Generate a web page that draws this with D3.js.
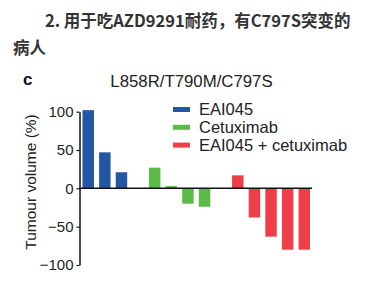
<!DOCTYPE html>
<html>
<head>
<meta charset="utf-8">
<script src="https://cdn.jsdelivr.net/npm/d3@7"></script>
<style>
  body { margin: 0; background: #fff; }
  svg { display: block; }
</style>
</head>
<body>
<div id="content"></div>
<script>
// ******* DATA *******
const headerLines = ["2. 用于吃AZD9291耐药，有C797S突变的", "病人"];
const panelTitle = "L858R/T790M/C797S";
const seriesNames = ["EAI045", "Cetuximab", "EAI045 + cetuximab"];
const seriesColors = ["#2456a6", "#5cba47", "#ee3e48"];
// per-mouse tumour volume change (%), one list per treatment
const eaiValues = [102, 47, 21];
const cetuximabValues = [27, 3, -20, -24];
const comboValues = [17, -38, -63, -80, -80];
const yTicks = [100, 50, 0, -50, -100];

// ******* SETUP *******
const width = 377, height = 284;
const svg = d3.select("#content").append("svg")
    .attr("width", width)
    .attr("height", height);

// header text (chinese)
svg.selectAll("text.header")
    .data(headerLines)
    .join("text")
    .attr("class", "header")
    .attr("x", (d, i) => i === 0 ? 45 : 13)
    .attr("y", (d, i) => 27 + i * 27)
    .attr("font-family", "'Noto Sans CJK SC', sans-serif")
    .attr("font-weight", "bold")
    .attr("font-size", 16.5)
    .attr("fill", "#333")
    .text(d => d);

// build bar list with gap slots between groups
const groups = [eaiValues, cetuximabValues, comboValues];
const bars = [];
const domain = [];
groups.forEach((vals, g) => {
    if (g > 0) domain.push("gap" + g);
    vals.forEach((v, i) => {
        const key = g + "-" + i;
        domain.push(key);
        bars.push({ key: key, value: v, group: g });
    });
});

const x = d3.scaleBand()
    .domain(domain)
    .range([80.5, 312])
    .paddingInner(0.31)
    .paddingOuter(0.12);

const y = d3.scaleLinear()
    .domain([-100, 100])
    .range([265, 111.7]);

const font = "'Liberation Sans', Arial, sans-serif";

// "c" panel label
svg.append("text")
    .attr("x", 23).attr("y", 85)
    .attr("font-family", font)
    .attr("font-weight", "bold")
    .attr("font-size", 17)
    .attr("fill", "#111")
    .text("c");

// panel title
svg.append("text")
    .attr("x", 191.5).attr("y", 86.5)
    .attr("text-anchor", "middle")
    .attr("font-family", font)
    .attr("font-size", 16.8)
    .attr("fill", "#222")
    .text(panelTitle);

// bars
svg.append("g").selectAll("rect")
    .data(bars)
    .join("rect")
    .attr("x", d => x(d.key))
    .attr("width", x.bandwidth())
    .attr("y", d => y(Math.max(0, d.value)))
    .attr("height", d => Math.abs(y(d.value) - y(0)))
    .attr("fill", d => seriesColors[d.group]);

// zero line
svg.append("line")
    .attr("x1", 79).attr("x2", 312)
    .attr("y1", y(0)).attr("y2", y(0))
    .attr("stroke", "#111").attr("stroke-width", 1.5);

// y axis
const yAxis = svg.append("g")
    .attr("transform", "translate(79.5,0)")
    .call(d3.axisLeft(y).tickValues(yTicks).tickSize(3).tickSizeOuter(0)
        .tickFormat(d => d < 0 ? "\u2212" + Math.abs(d) : d));
yAxis.select(".domain").attr("stroke", "#111").attr("stroke-width", 1.5);
yAxis.selectAll(".tick line").attr("stroke", "#111").attr("stroke-width", 1.2);
yAxis.selectAll(".tick text")
    .attr("font-family", font)
    .attr("font-size", 15)
    .attr("fill", "#222")
    .attr("x", -6);

// y label
svg.append("text")
    .attr("transform", "translate(36,182) rotate(-90)")
    .attr("text-anchor", "middle")
    .attr("font-family", font)
    .attr("font-size", 15.5)
    .attr("fill", "#222")
    .text("Tumour volume (%)");

// legend
const legend = svg.append("g").selectAll("g")
    .data(seriesNames)
    .join("g")
    .attr("transform", (d, i) => `translate(173,${109.5 + i * 17.8})`);
legend.append("rect")
    .attr("x", 0).attr("y", -2.5)
    .attr("width", 17).attr("height", 5)
    .attr("fill", (d, i) => seriesColors[i]);
legend.append("text")
    .attr("x", 26).attr("y", 5.8)
    .attr("font-family", font)
    .attr("font-size", 16.5)
    .attr("fill", "#222")
    .text(d => d);
</script>
</body>
</html>
